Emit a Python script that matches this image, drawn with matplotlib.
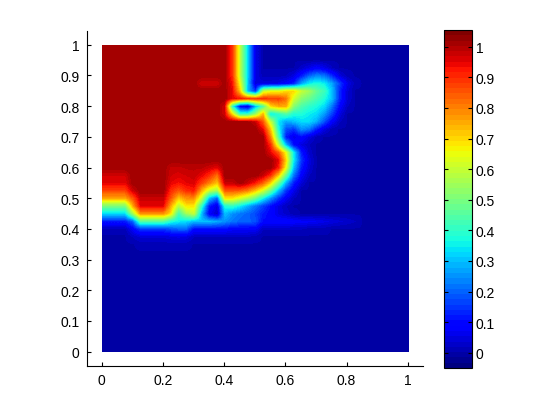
import numpy as np
import matplotlib
matplotlib.use('Agg')
import matplotlib.pyplot as plt
from matplotlib.patches import Rectangle

plt.rcParams['font.family'] = ['Liberation Sans', 'DejaVu Sans']

# grid of the field, rows run from y=1 down to y=0
n_grid = 41
x_grid = [i / 40 for i in range(n_grid)]
y_grid = [1 - i / 40 for i in range(n_grid)]

# level of the saturated dark red area
d = 1.02

# rows are read off the picture; the part not written at the right is background 0
z_rows = [
    [d,d,d,d,d,d,d,d,d,d,d,d,d,d,d,d, d,.9,.6,.32,.06],
    [d,d,d,d,d,d,d,d,d,d,d,d,d,d,d,d, d,.9,.6,.32,.06],
    [d,d,d,d,d,d,d,d,d,d,d,d,d,d,d,d, d,.9,.6,.32,.06],
    [d,d,d,d,d,d,d,d,d,d,d,d,d,d,d,d, d,.9,.6,.32,.06,0,0,0,0,0,.03,.06,.09,.06,.02],
    [d,d,d,d,d,d,d,d,d,d,d,d,d,d,d,d, d,.9,.6,.32,.06,.01,.01,.01,.02,.05,.12,.2,.24,.22,.14,.05,.01],
    [d,d,d,d,d,d,d,d,d,d,d,d,d,.97,.97,.97, d,.93,.65,.32,.05,.05,.05,.06,.08,.12,.27,.35,.38,.35,.27,.16,.06,.01],
    [d,d,d,d,d,d,d,d,d,d,d,d,d,d,d,d, d,.95,.72,.3,.15,.6,.65,.65,.7,.7,.6,.55,.47,.42,.3,.13,.04],
    [d,d,d,d,d,d,d,d,d,d,d,d,d,d,d,d, d,.95,.93,.9,.9,.9,.88,.88,.82,.62,.52,.48,.43,.38,.3,.13,.04],
    [d,d,d,d,d,d,d,d,d,d,d,d,d,d,d,d, .97,.4,.1,.05,.3,.45,.7,.75,.75,.52,.44,.4,.37,.33,.22,.09,.02],
    [d,d,d,d,d,d,d,d,d,d,d,d,d,d,d,d, .97,.7,.42,.42,.55,.75,.35,.4,.45,.38,.38,.35,.33,.26,.16,.05],
    [d,d,d,d,d,d,d,d,d,d,d,d,d,d,d,d, d,d,d,d,.98,.85,.6,.35,.27,.3,.33,.33,.28,.18,.08,.02],
    [d,d,d,d,d,d,d,d,d,d,d,d,d,d,d,d, d,d,d,d,d,.95,.72,.38,.18,.15,.25,.22,.12,.05,.01],
    [d,d,d,d,d,d,d,d,d,d,d,d,d,d,d,d, d,d,d,d,d,d,.8,.45,.12,.06,.1,.05,.01],
    [d,d,d,d,d,d,d,d,d,d,d,d,d,d,d,d, d,d,d,d,d,d,.9,.6,.3,.1,.05,.02],
    [d,d,d,d,d,d,d,d,d,d,d,d,d,d,d,d, d,d,d,d,d,d,.95,.85,.65,.35,.12,.03],
    [d,d,d,d,d,d,d,d,d,d,d,d,d,d,d,d, d,d,d,d,d,d,d,.95,.7,.35,.15,.05],
    [d,d,d,d,d,d,d,d,d,.98,.98,.99,.99,.99,.97,.95, d,d,d,d,d,d,d,.92,.65,.3,.12,.04],
    [.97,.97,.97,.97,d,d,d,d,d,.97,.96,.97,.98,.95,.9,.82, d,d,d,d,d,.98,.9,.72,.47,.22,.08,.02],
    [.95,.95,.95,.95,d,d,d,d,d,.95,.93,.95,.96,.88,.8,.72, .98,.98,d,.98,.92,.84,.7,.5,.28,.12,.04],
    [.87,.87,.87,.87,.97,d,d,d,d,.9,.85,.9,.92,.75,.6,.55, .85,.85,.84,.8,.72,.62,.48,.3,.15,.06],
    [.75,.75,.75,.75,.85,.98,.98,.98,.98,.85,.72,.78,.78,.6,.3,.2, .68,.68,.62,.56,.48,.36,.25,.15,.07,.02],
    [.5,.5,.5,.5,.75,.95,.95,.95,.95,.75,.58,.68,.68,.4,.12,.05, .38,.4,.35,.28,.22,.16,.1,.05,.02],
    [.33,.33,.33,.33,.55,.78,.78,.78,.78,.68,.42,.55,.6,.3,.08,.03, .3,.25,.22,.2,.17,.12,.09,.05,.03,.01],
    [.12,.12,.12,.12,.2,.45,.45,.45,.45,.38,.35,.33,.3,.3,.3,.28, .25,.22,.2,.2,.18,.1,.1,.1,.1,.09,.08,.08,.07,.06,.05,.04,.03,.02],
    [.01,.01,.01,.01,.08,.15,.15,.15,.15,.18,.2,.2,.1,.1,.1,.1, .1,.08,.08,.08,.08,.02,.02,.02,.02,.02,.02,.01,.01,.01],
    [0,0,0,0,.02,.04,.04,.04,.04,.05,.06,.05,.02,.02,.02,.02, .02,.02,.02,.02,.01],
    [0,0,0,0,0,.01,.01,.01,.01,.01,.01,.01],
]

x_ticks = [0, 0.2, 0.4, 0.6, 0.8, 1]
x_labels = ['0', '0.2', '0.4', '0.6', '0.8', '1']
y_ticks = [0, 0.1, 0.2, 0.3, 0.4, 0.5, 0.6, 0.7, 0.8, 0.9, 1]
y_labels = ['0', '0.1', '0.2', '0.3', '0.4', '0.5', '0.6', '0.7', '0.8', '0.9', '1']

# pad the rows, everything else is background
z = np.zeros((n_grid, n_grid))
for i, row in enumerate(z_rows):
    z[i, :len(row)] = row

W, H = 560, 414
fig = plt.figure(figsize=(W / 100, H / 100), dpi=100, facecolor='white')

# pixel box of the main axes and the colorbar
ax = fig.add_axes([86.5 / W, 1 - 367 / H, 336 / W, 335 / H])
cax = fig.add_axes([444 / W, 1 - 369 / H, 27.5 / W, 338 / H])

cmap = plt.get_cmap('jet', 64)
step = x_grid[1] - x_grid[0]
im = ax.imshow(z, cmap=cmap, vmin=-0.05, vmax=1.055, aspect='auto',
               extent=(x_grid[0] - step / 2, x_grid[-1] + step / 2,
                       y_grid[-1] - step / 2, y_grid[0] + step / 2),
               interpolation='bilinear', interpolation_stage='data')
im.set_clip_path(Rectangle((0, 0), 1, 1, transform=ax.transData))

ax.set_xlim(-0.049, 1.048)
ax.set_ylim(-0.047, 1.045)
ax.spines['top'].set_visible(False)
ax.spines['right'].set_visible(False)
ax.set_xticks(x_ticks, x_labels)
ax.set_yticks(y_ticks, y_labels)
ax.tick_params(direction='in', length=3, width=0.8, labelsize=10, pad=5)

cb = fig.colorbar(im, cax=cax)
cb.set_ticks(y_ticks, labels=y_labels)
cb.outline.set_linewidth(0.8)
cax.tick_params(direction='in', length=3, width=0.8, labelsize=10, left=True, right=True, pad=3)

fig.savefig('out.png', dpi=100)
